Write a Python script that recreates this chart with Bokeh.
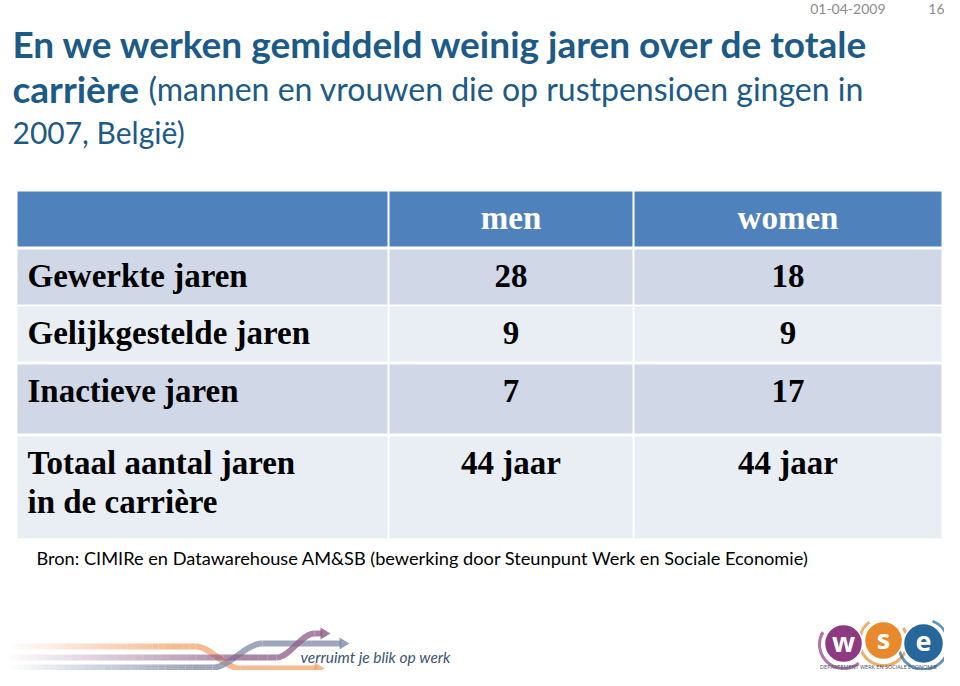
import numpy as np
from bokeh.plotting import figure
from bokeh.models import Range1d
from bokeh.core.properties import value
from bokeh.embed import file_html
from bokeh.resources import INLINE

# ---------------- data ----------------
columns = ["men", "women"]
row_labels = ["Gewerkte jaren", "Gelijkgestelde jaren", "Inactieve jaren",
              "Totaal aantal jaren\nin de carrière"]
men = ["28", "9", "7", "44 jaar"]
women = ["18", "9", "17", "44 jaar"]

title_line1 = "En we werken gemiddeld weinig jaren over de totale"
title_line2_bold = "carrière"
title_line2_rest = "(mannen en vrouwen die op rustpensioen gingen in"
title_line3 = "2007, België)"
source_note = "Bron: CIMIRe en Datawarehouse AM&SB (bewerking door Steunpunt Werk en Sociale Economie)"
slide_date = "01-04-2009"
slide_number = "16"
tagline = "verruimt je blik op werk"
logo_letters = ["w", "s", "e"]
logo_caption = "DEPARTEMENT WERK EN SOCIALE ECONOMIE"

# ---------------- layout / style ----------------
W, H = 944, 670
row_top = [191, 249, 306, 364, 436]
row_bottom = [246, 304, 361, 433, 538]
col_left = [17, 389, 634]
col_right = [387, 632, 941]
HEADER_BG = "#4F81BD"
ROW_BG = ["#D0D8E8", "#E9EDF4"]
TITLE_COLOR = "#1C5A88"
SERIF = value("Liberation Serif")
SANS = value("Lato")
TABLE_FS = "33px"
LINE_H = 39

p = figure(width=W, height=H, output_backend="svg", toolbar_location=None,
           x_range=Range1d(0, W), y_range=Range1d(H, 0),
           min_border=0, outline_line_color=None, background_fill_color="white",
           border_fill_color="white")
p.axis.visible = False
p.grid.visible = False

# ---- table cells ----
L, R, T, B, C = [], [], [], [], []
for r in range(len(row_top)):
    for c in range(len(col_left)):
        L.append(col_left[c]); R.append(col_right[c])
        T.append(row_top[r]); B.append(row_bottom[r])
        C.append(HEADER_BG if r == 0 else ROW_BG[(r - 1) % 2])
p.quad(left=L, right=R, top=T, bottom=B, fill_color=C, line_color=None)

col_center = [(col_left[c] + col_right[c]) / 2 for c in range(3)]

# header
p.text(x=col_center[1:], y=[row_top[0] + 26] * len(columns), text=columns,
       text_font=SERIF, text_font_style="bold", text_font_size=TABLE_FS,
       text_color="white", text_align="center", text_baseline="middle")

# row labels (split multi-line labels)
lx, ly, lt = [], [], []
for i, lab in enumerate(row_labels):
    for j, line in enumerate(lab.split("\n")):
        lx.append(27); ly.append(row_top[i + 1] + 26 + j * LINE_H); lt.append(line)
p.text(x=lx, y=ly, text=lt, text_font=SERIF, text_font_style="bold",
       text_font_size=TABLE_FS, text_color="black", text_align="left",
       text_baseline="middle")

# values
for c, vals in zip([1, 2], [men, women]):
    p.text(x=[col_center[c]] * len(vals), y=[row_top[i + 1] + 26 for i in range(len(vals))],
           text=vals, text_font=SERIF, text_font_style="bold", text_font_size=TABLE_FS,
           text_color="black", text_align="center", text_baseline="middle")

# ---- title ----
p.text(x=[12], y=[43], text=[title_line1], text_font=SANS, text_font_style="bold",
       text_font_size="37px", text_color=TITLE_COLOR, text_baseline="alphabetic")
p.text(x=[12], y=[88], text=[title_line2_bold], text_font=SANS, text_font_style="bold",
       text_font_size="37px", text_color=TITLE_COLOR, text_baseline="alphabetic")
p.text(x=[148], y=[88], text=[title_line2_rest], text_font=SANS,
       text_font_size="32px", text_color=TITLE_COLOR, text_baseline="alphabetic")
p.text(x=[12], y=[131], text=[title_line3], text_font=SANS,
       text_font_size="30px", text_color=TITLE_COLOR, text_baseline="alphabetic")

# date / slide number
p.text(x=[885], y=[8], text=[slide_date], text_font=SANS, text_font_size="14px",
       text_color="#8C8C8C", text_align="right", text_baseline="middle")
p.text(x=[944], y=[8], text=[slide_number], text_font=SANS, text_font_size="14px",
       text_color="#8C8C8C", text_align="right", text_baseline="middle")

# source
p.text(x=[36], y=[557], text=[source_note], text_font=SANS, text_font_size="18.2px",
       text_color="black", text_baseline="middle")

# ---- footer: swoosh logo ----
def band(y0, y1, xs, xe, xend, color, lw=6):
    n = 30
    xs_f = np.linspace(10, xs, n + 1)
    for k in range(n):
        a = min(1.0, (k + 1) / n * 1.1) * 0.75
        p.line([xs_f[k], xs_f[k + 1]], [y0, y0], line_color=color, line_width=lw,
               line_alpha=a)
    t = np.linspace(0, 1, 30)
    s = t * t * (3 - 2 * t)
    p.line(xs + (xe - xs) * t, y0 + (y1 - y0) * s, line_color=color, line_width=lw,
           line_alpha=0.75)
    p.line([xe, xend - 6], [y1, y1], line_color=color, line_width=lw, line_alpha=0.75)
    p.patch([xend - 8, xend + 2, xend - 8], [y1 - 6, y1, y1 + 6], fill_color=color,
            fill_alpha=0.8, line_color=None)

band(646, 672 - 4, 195, 240, 322, "#F2A36B")
band(667, 643, 212, 262, 347, "#7D8AA6")
band(657, 633, 276, 314, 328, "#8C5B86")
p.text(x=[300], y=[656], text=[tagline], text_font=SANS, text_font_style="italic",
       text_font_size="15.5px", text_color="#3C5570", text_baseline="middle")

# ---- footer: WSE logo ----
cx = [843, 883, 923]
cy = [643, 640, 643]
cr = [19, 19, 20]
ccol = ["#8E3A80", "#E8892B", "#27679C"]
p.arc(x=cx, y=[y + 1 for y in cy], radius=[r + 5 for r in cr], start_angle=[2.6, 2.2, 3.4],
      end_angle=[5.4, 0.6, 1.2], line_color=ccol, line_width=3, line_alpha=0.7)
p.circle(x=cx, y=cy, radius=cr, fill_color=ccol, line_color="white", line_width=1.5)
p.text(x=cx, y=[y - 2 for y in cy], text=logo_letters, text_font=value("Open Sans"),
       text_font_style="bold", text_font_size="27px", text_color="white",
       text_align="center", text_baseline="middle")
p.text(x=[878], y=[666], text=[logo_caption], text_font=value("Open Sans"),
       text_font_size="5.5px", text_color="#3C4A6A", text_align="center",
       text_baseline="middle")

open("out.html", "w").write(file_html(p, INLINE))
